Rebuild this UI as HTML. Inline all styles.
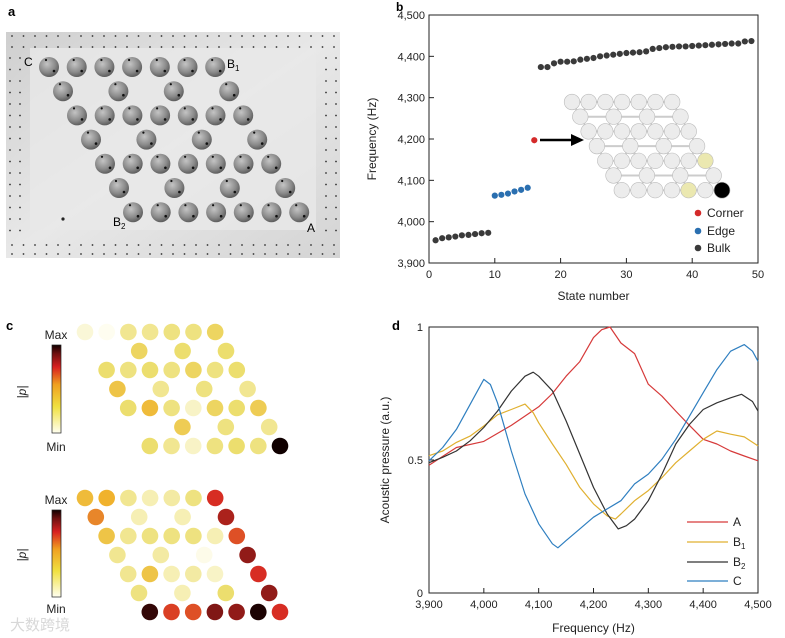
<!DOCTYPE html>
<html><head><meta charset="utf-8"><style>
body{margin:0;background:#fff;}
svg{display:block;font-family:"Liberation Sans","Noto Sans CJK SC",sans-serif;}
</style></head><body>
<svg id="fig" width="785" height="638" viewBox="0 0 785 638" xmlns="http://www.w3.org/2000/svg">
<defs>
<linearGradient id="plate" x1="0" y1="0" x2="1" y2="1">
<stop offset="0" stop-color="#cfcfcf"/><stop offset="0.5" stop-color="#e8e8e8"/><stop offset="1" stop-color="#d4d4d4"/></linearGradient>
<radialGradient id="cyl" cx="0.4" cy="0.35" r="0.7">
<stop offset="0" stop-color="#c4c4c4"/><stop offset="0.6" stop-color="#8a8a8a"/><stop offset="1" stop-color="#555"/></radialGradient>
<linearGradient id="cbar" x1="0" y1="1" x2="0" y2="0">
<stop offset="0" stop-color="#fffff0"/><stop offset="0.3" stop-color="#f0e040"/><stop offset="0.55" stop-color="#f0a020"/><stop offset="0.75" stop-color="#d82020"/><stop offset="0.9" stop-color="#701010"/><stop offset="1" stop-color="#100000"/></linearGradient>
</defs>
<text x="8" y="16" font-size="13" font-weight="bold">a</text>
<text x="396" y="11" font-size="12" font-weight="bold">b</text>
<text x="6" y="330" font-size="13" font-weight="bold">c</text>
<text x="392" y="330" font-size="13" font-weight="bold">d</text>
<g id="pa">
<rect x="6" y="32" width="334" height="226" fill="url(#plate)"/>
<rect x="30" y="48" width="286" height="182" fill="#e9e9e9" opacity="0.8"/>
</g>
<g id="pb"></g>
<g id="pc"></g>
<g id="pd"></g>
<text x="10" y="630" font-size="15" fill="#d8d8d8">大数跨境</text>
</svg>
<script>
// ---------- data ----------
const bulkLowStates=[1,2,3,4,5,6,7,8,9];
const bulkLowFreq=[3955,3960,3962,3964,3967,3968,3970,3972,3973];
const edgeStates=[10,11,12,13,14,15];
const edgeFreq=[4063,4065,4068,4073,4077,4082];
const cornerStates=[16];
const cornerFreq=[4197];
const bulkHighFreq=[4374,4374,4383,4387,4387,4388,4392,4394,4396,4400,4402,4404,4406,4408,4409,4410,4412,4418,4420,4422,4423,4424,4424,4425,4426,4427,4428,4429,4430,4431,4431,4436,4437];
const bulkHighStates=bulkHighFreq.map((v,i)=>17+i);
const bXTicks=[0,10,20,30,40,50];
const bYTicks=[3900,4000,4100,4200,4300,4400,4500];
const bYTickLabels=["3,900","4,000","4,100","4,200","4,300","4,400","4,500"];

const freqA=[3900,3950,4000,4050,4100,4125,4150,4175,4200,4215,4230,4250,4275,4300,4325,4350,4375,4400,4425,4450,4475,4500];
const valA=[0.48,0.547,0.57,0.63,0.70,0.75,0.815,0.87,0.96,0.99,1.0,0.94,0.90,0.785,0.74,0.684,0.63,0.578,0.56,0.534,0.515,0.497];
const freqB1=[3900,3925,3950,3975,4000,4025,4050,4075,4090,4100,4125,4150,4175,4200,4225,4240,4250,4275,4300,4325,4350,4375,4400,4425,4450,4475,4500];
const valB1=[0.516,0.534,0.566,0.59,0.628,0.67,0.69,0.71,0.678,0.64,0.56,0.484,0.397,0.335,0.29,0.278,0.297,0.347,0.385,0.434,0.49,0.534,0.578,0.609,0.597,0.587,0.553];
const freqB2=[3900,3925,3950,3975,4000,4025,4050,4075,4090,4100,4125,4150,4175,4200,4225,4245,4260,4275,4300,4325,4350,4375,4400,4425,4450,4470,4490,4500];
const valB2=[0.49,0.51,0.534,0.572,0.622,0.684,0.759,0.815,0.83,0.815,0.76,0.647,0.522,0.397,0.297,0.241,0.253,0.278,0.347,0.447,0.56,0.634,0.69,0.715,0.734,0.747,0.72,0.684];
const freqC=[3900,3925,3950,3975,4000,4012,4025,4050,4075,4100,4125,4135,4150,4175,4200,4225,4250,4275,4300,4325,4350,4375,4400,4425,4450,4475,4490,4500];
const valC=[0.497,0.547,0.615,0.709,0.803,0.784,0.715,0.534,0.372,0.26,0.185,0.17,0.197,0.241,0.285,0.316,0.347,0.41,0.447,0.503,0.578,0.665,0.753,0.84,0.909,0.934,0.909,0.871];
const dXTicks=[3900,4000,4100,4200,4300,4400,4500];
const dXTickLabels=["3,900","4,000","4,100","4,200","4,300","4,400","4,500"];
const dYTicks=[0,0.5,1];
const dYTickLabels=["0","0.5","1"];
const seriesNames=["A","B1","B2","C"];

const fieldTop=[[0.1,0.03,0.3,0.3,0.35,0.35,0.45],[0,0.45,0.4,0.4],[0.4,0.35,0.4,0.35,0.45,0.35,0.4],[0.55,0.3,0.35,0.3],[0.4,0.6,0.35,0.15,0.45,0.4,0.5],[0,0.5,0.35,0.3],[0.4,0.3,0.15,0.35,0.4,0.35,1.0]];
const fieldBottom=[[0.6,0.65,0.3,0.2,0.25,0.35,0.8],[0.7,0.2,0.2,0.85],[0.55,0.3,0.35,0.35,0.35,0.2,0.76],[0.3,0.25,0.05,0.88],[0.3,0.55,0.2,0.25,0.15,0,0.8],[0.35,0.2,0.4,0.88],[0.97,0.78,0.76,0.9,0.88,0.99,0.8]];

// ---------- helpers ----------
const NS="http://www.w3.org/2000/svg";
function mk(tag,attrs,parent){const e=document.createElementNS(NS,tag);for(const k in attrs)e.setAttribute(k,attrs[k]);parent.appendChild(e);return e;}
function txt(s,attrs,parent){const e=mk('text',attrs,parent);e.textContent=s;return e;}
function sites(x0,y0,dx,dy,off){const out=[];for(let r=0;r<7;r++){const n=(r%2==0)?7:4;const row=[];for(let i=0;i<n;i++){const step=(r%2==0)?dx:2*dx;row.push([x0+r*off+i*step,y0+r*dy]);}out.push(row);}return out;}

// ---------- panel a ----------
const pa=document.getElementById('pa');
for(let x=12;x<340;x+=11.5){for(const y of [36,47,245,254]){const d=mk('circle',{cx:x,cy:y,r:0.9,fill:'#333'},pa);}}
for(let y=58;y<240;y+=11.5){for(const x of [10,20,326,336]){const d=mk('circle',{cx:x,cy:y,r:0.9,fill:'#333'},pa);}}
const sa=sites(49,67,27.7,24.2,14);
sa.forEach(row=>row.forEach(([x,y])=>{const c=mk('circle',{cx:x,cy:y,r:10,fill:'url(#cyl)'},pa);
mk('circle',{cx:x+5,cy:y+4,r:1.3,fill:'#111'},pa);mk('circle',{cx:x-3,cy:y-7,r:1.1,fill:'#111'},pa);}));
[["C",24,66],["A",307,232]].forEach(([s,x,y])=>{const t=txt(s,{x:x,y:y,'font-size':12},pa);});
let t1=txt('B',{x:227,y:68,'font-size':12},pa);txt('1',{x:235,y:71,'font-size':8},pa);
let t2=txt('B',{x:113,y:226,'font-size':12},pa);txt('2',{x:121,y:229,'font-size':8},pa);
mk('circle',{cx:63,cy:219,r:1.6,fill:'#222'},pa);

// ---------- panel b ----------
const pb=document.getElementById('pb');
const bL=429,bR=758,bT=15,bB=263;
const bx=v=>bL+(v-0)/(50-0)*(bR-bL);
const by=v=>bB-(v-3900)/(4500-3900)*(bB-bT);
let fr=mk('rect',{x:bL,y:bT,width:bR-bL,height:bB-bT,fill:'none',stroke:'#222','stroke-width':1},pb);
bXTicks.forEach(v=>{mk('line',{x1:bx(v),x2:bx(v),y1:bB,y2:bB-5,stroke:'#222'},pb);const t=txt(String(v),{x:bx(v),y:bB+15,'font-size':11,'text-anchor':'middle',fill:'#222'},pb);});
bYTicks.forEach((v,i)=>{mk('line',{x1:bL,x2:bL+5,y1:by(v),y2:by(v),stroke:'#222'},pb);const t=txt(bYTickLabels[i],{x:bL-4,y:by(v)+4,'font-size':11,'text-anchor':'end',fill:'#222'},pb);});
let xt=txt('State number',{x:(bL+bR)/2,y:300,'font-size':12,'text-anchor':'middle',fill:'#222'},pb);
let yt=txt('Frequency (Hz)',{x:0,y:0,'font-size':12,'text-anchor':'middle',fill:'#222',transform:`translate(376,${(bT+bB)/2}) rotate(-90)`},pb);
const si=sites(572,102,16.7,14.7,8.3);
si.forEach((row,r)=>row.forEach(([x,y],i)=>{if(i<row.length-1){mk('line',{x1:x,y1:y,x2:row[i+1][0],y2:y,stroke:'#ccc','stroke-width':2},pb);}
if(r<6){const nx=si[r+1];nx.forEach(([x2,y2])=>{if(Math.abs(x2-x)<12)mk('line',{x1:x,y1:y,x2:x2,y2:y2,stroke:'#ccc','stroke-width':2},pb);});}}));
si.forEach((row,r)=>row.forEach(([x,y],i)=>{let f='#ececec',rad=7.8;if((r==4&&i==6)||(r==6&&i==4))f='#ebe8b0';if(r==6&&i==6){f='#000';rad=8;}
const c=mk('circle',{cx:x,cy:y,r:rad,fill:f,stroke:'#bbb','stroke-width':0.6},pb);}));
let ar=mk('line',{x1:540,y1:140,x2:574,y2:140,stroke:'#000','stroke-width':2.5},pb);
mk('polygon',{points:'584,140 571,134 571,146',fill:'#000'},pb);
function dots(xs,ys,col,name){xs.forEach((s,i)=>{const c=mk('circle',{cx:bx(s),cy:by(ys[i]),r:3.1,fill:col},pb);});}
dots(bulkLowStates,bulkLowFreq,'#3a3a3a','bulk-point');
dots(edgeStates,edgeFreq,'#2a6fb0','edge-point');
dots(cornerStates,cornerFreq,'#d42a2a','corner-point');
dots(bulkHighStates,bulkHighFreq,'#3a3a3a','bulk-point');
[['Corner','#d42a2a',213],['Edge','#2a6fb0',231],['Bulk','#3a3a3a',248]].forEach(([s,c,y])=>{const d=mk('circle',{cx:698,cy:y,r:3.3,fill:c},pb);const t=txt(s,{x:707,y:y+4,'font-size':12,fill:'#222'},pb);});

// ---------- panel c ----------
const pc=document.getElementById('pc');
const stops=[[0,[255,255,250]],[0.4,[236,222,110]],[0.65,[240,178,45]],[0.8,[215,45,35]],[0.92,[110,18,18]],[1,[16,0,0]]];
function cmap(v){for(let i=1;i<stops.length;i++){if(v<=stops[i][0]){const [a,ca]=stops[i-1],[b,cb]=stops[i];const t=(v-a)/(b-a);return 'rgb('+ca.map((c,k)=>Math.round(c+(cb[k]-c)*t)).join(',')+')';}}return 'rgb(16,0,0)';}
function field(data,y0,name){const s=sites(85,y0,21.7,19,10.8);s.forEach((row,r)=>row.forEach(([x,y],i)=>{const v=data[r][i];if(v<=0)return;const c=mk('circle',{cx:x,cy:y,r:8.3,fill:cmap(v)},pc);}));}
field(fieldTop,332,'field-site-top');
field(fieldBottom,498,'field-site-bottom');
[[345,433,335,447,392],[510,597,500,609,555]].forEach(([t,b,mx,mn,my],k)=>{
const r=mk('rect',{x:52,y:t,width:9,height:b-t,fill:'url(#cbar)',stroke:'#222','stroke-width':0.7},pc);
let a=txt('Max',{x:56,y:mx+4,'font-size':12,'text-anchor':'middle',fill:'#222'},pc);
let m=txt('Min',{x:56,y:mn+4,'font-size':12,'text-anchor':'middle',fill:'#222'},pc);
let p=txt('|p|',{x:0,y:0,'font-size':12,'font-style':'italic','text-anchor':'middle',fill:'#222',transform:`translate(26,${my}) rotate(-90)`},pc);});

// ---------- panel d ----------
const pd=document.getElementById('pd');
const dL=429,dR=758,dT=327,dB=593;
const dx=v=>dL+(v-3900)/(4500-3900)*(dR-dL);
const dy=v=>dB-v*(dB-dT);
let fd=mk('rect',{x:dL,y:dT,width:dR-dL,height:dB-dT,fill:'none',stroke:'#222','stroke-width':1},pd);
dXTicks.forEach((v,i)=>{mk('line',{x1:dx(v),x2:dx(v),y1:dB,y2:dB-5,stroke:'#222'},pd);const t=txt(dXTickLabels[i],{x:dx(v),y:dB+15,'font-size':11,'text-anchor':'middle',fill:'#222'},pd);});
dYTicks.forEach((v,i)=>{mk('line',{x1:dL,x2:dL+5,y1:dy(v),y2:dy(v),stroke:'#222'},pd);const t=txt(dYTickLabels[i],{x:dL-6,y:dy(v)+4,'font-size':11,'text-anchor':'end',fill:'#222'},pd);});
let xd=txt('Frequency (Hz)',{x:(dL+dR)/2,y:632,'font-size':12,'text-anchor':'middle',fill:'#222'},pd);
let yd=txt('Acoustic pressure (a.u.)',{x:0,y:0,'font-size':12,'text-anchor':'middle',fill:'#222',transform:`translate(389,${(dT+dB)/2}) rotate(-90)`},pd);
const cols=['#d63a3a','#e0b030','#333333','#2f7fc0'];
[[freqA,valA],[freqB1,valB1],[freqB2,valB2],[freqC,valC]].forEach(([xs,ys],k)=>{
const d=xs.map((f,i)=>(i?'L':'M')+dx(f).toFixed(1)+','+dy(ys[i]).toFixed(1)).join('');
const p=mk('path',{d:d,fill:'none',stroke:cols[k],'stroke-width':1.2,'stroke-linejoin':'round'},pd);});
const legY=[522,542,562,581];
seriesNames.forEach((n,k)=>{const l=mk('line',{x1:687,x2:728,y1:legY[k],y2:legY[k],stroke:cols[k],'stroke-width':1.3},pd);
const t=txt(n[0],{x:733,y:legY[k]+4,'font-size':12,fill:'#222'},pd);
if(n.length>1)txt(n[1],{x:741,y:legY[k]+7,'font-size':8,fill:'#222'},pd);});
</script>
</body></html>
